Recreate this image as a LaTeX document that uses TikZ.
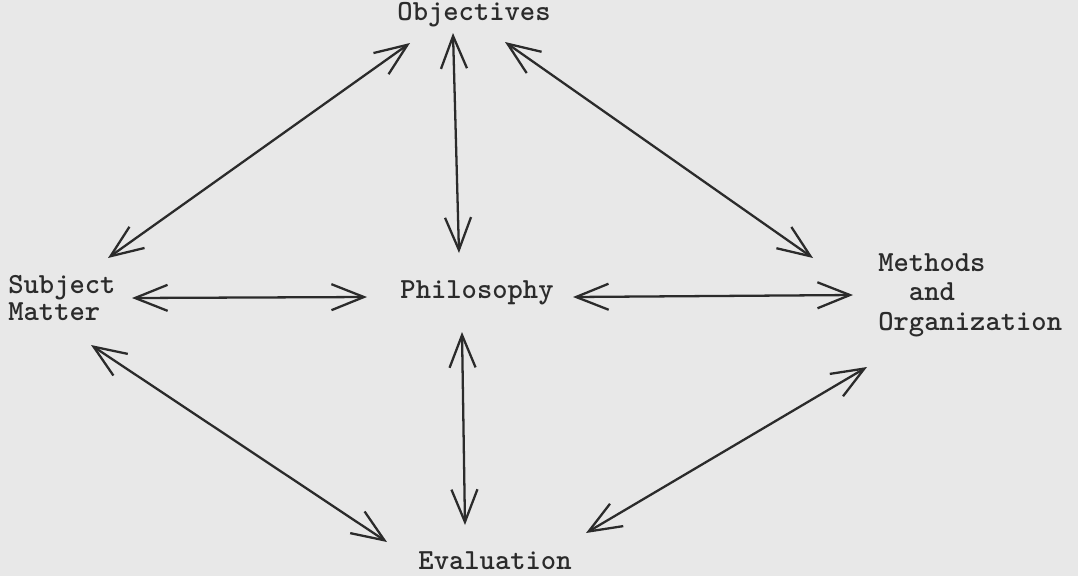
\documentclass[tikz,border=0pt]{standalone}
\usetikzlibrary{positioning, arrows.meta}

\definecolor{paper}{gray}{0.91}
\definecolor{ink}{gray}{0.17}

\begin{document}
\begin{tikzpicture}[
    x=0.02cm, y=-0.02cm,     % 座標はピクセル単位で指定
    >={Straight Barb[length=6.5mm, width=5.2mm]},
    topic/.style={font=\ttfamily\bfseries\fontsize{16.6}{16.7}\selectfont, text=ink, inner sep=0pt, align=left},
    link/.style={<->, draw=ink, line width=1.3pt}
]

    % --- 1. 背景 ---
    \fill [paper] (0, 0) rectangle (1078, 576);
    \useasboundingbox (0, 0) rectangle (1078, 576);

    % --- 2. 項目の配置 ---
    \node [topic] (objectives) at (474, 15) {Objectives};
    \node [topic] (philosophy) at (477, 293) {Philosophy};
    \node [topic] (evaluation) at (495, 561) {Evaluation};
    \node [topic, anchor=west, font=\ttfamily\bfseries\fontsize{16.6}{15.5}\selectfont] (subject) at (8, 298) {Subject\\Matter};
    \node [topic, anchor=west] (methods) at (878, 295) {Methods\\~~and\\Organization};

    % --- 3. 矢印の端点 ---
    \coordinate (obj_sw) at (410, 43);
    \coordinate (obj_s)  at (453, 33);
    \coordinate (obj_se) at (505, 42);
    \coordinate (sub_ne) at (108, 258);
    \coordinate (sub_e)  at (132, 298);
    \coordinate (sub_se) at (91, 345);
    \coordinate (phi_n)  at (459, 253);
    \coordinate (phi_w)  at (367, 297);
    \coordinate (phi_e)  at (573, 297);
    \coordinate (phi_s)  at (462, 332);
    \coordinate (met_nw) at (813, 258);
    \coordinate (met_w)  at (853, 295);
    \coordinate (met_sw) at (867, 367);
    \coordinate (eva_n)  at (465, 525);
    \coordinate (eva_nw) at (387, 542);
    \coordinate (eva_ne) at (586, 533);

    % --- 4. 双方向の矢印 ---
    \draw [link] (obj_sw) -- (sub_ne);
    \draw [link] (obj_s) -- (phi_n);
    \draw [link] (obj_se) -- (met_nw);
    \draw [link] (sub_e) -- (phi_w);
    \draw [link] (phi_e) -- (met_w);
    \draw [link] (phi_s) -- (eva_n);
    \draw [link] (sub_se) -- (eva_nw);
    \draw [link] (eva_ne) -- (met_sw);

\end{tikzpicture}
\end{document}
